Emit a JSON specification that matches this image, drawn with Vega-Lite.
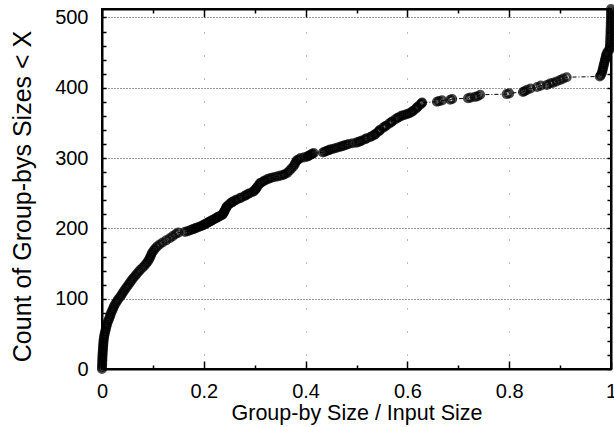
{
"$schema": "https://vega.github.io/schema/vega-lite/v6.json",
"width": 509, "height": 360,
"autosize": {"type": "none"},
"padding": {"left": 102, "top": 9, "right": 3, "bottom": 58},
"config": {
  "view": {"stroke": "black", "strokeWidth": 2},
  "font": "Liberation Sans",
  "axis": {"domainColor": "black", "domainWidth": 2, "tickColor": "black", "tickWidth": 1.5, "labelColor": "black", "titleColor": "black", "labelFont": "Liberation Sans", "titleFont": "Liberation Sans", "labelFontSize": 20, "titleFontWeight": "normal"}
},
"data": {"values": [
{"x":0.0000,"y":0},{"x":0.0001,"y":3},{"x":0.0003,"y":6},{"x":0.0004,"y":9},{"x":0.0006,"y":12},{"x":0.0008,"y":15},{"x":0.0009,"y":18},{"x":0.0011,"y":21},{"x":0.0014,"y":24},{"x":0.0017,"y":27},{"x":0.0020,"y":30},{"x":0.0023,"y":33},{"x":0.0026,"y":36},{"x":0.0029,"y":39},{"x":0.0033,"y":42},{"x":0.0040,"y":45},{"x":0.0046,"y":48},{"x":0.0055,"y":51},{"x":0.0065,"y":54},{"x":0.0075,"y":57},{"x":0.0085,"y":60},{"x":0.0095,"y":63},{"x":0.0108,"y":66},{"x":0.0125,"y":69},{"x":0.0140,"y":72},{"x":0.0158,"y":75},{"x":0.0170,"y":78},{"x":0.0185,"y":81},{"x":0.0205,"y":84},{"x":0.0222,"y":87},{"x":0.0240,"y":90},{"x":0.0265,"y":93},{"x":0.0290,"y":96},{"x":0.0315,"y":99},{"x":0.0350,"y":102},{"x":0.0380,"y":105},{"x":0.0405,"y":108},{"x":0.0430,"y":111},{"x":0.0460,"y":114},{"x":0.0490,"y":117},{"x":0.0520,"y":120},{"x":0.0550,"y":123},{"x":0.0580,"y":126},{"x":0.0610,"y":129},{"x":0.0645,"y":132},{"x":0.0680,"y":135},{"x":0.0715,"y":138},{"x":0.0750,"y":141},{"x":0.0795,"y":144},{"x":0.0835,"y":147},{"x":0.0870,"y":150},{"x":0.0900,"y":153},{"x":0.0925,"y":156},{"x":0.0945,"y":159},{"x":0.0965,"y":162},{"x":0.0980,"y":165},{"x":0.1010,"y":168},{"x":0.1040,"y":171},{"x":0.1080,"y":174},{"x":0.1130,"y":177},{"x":0.1190,"y":180},{"x":0.1260,"y":183},{"x":0.1330,"y":186},{"x":0.1390,"y":189},{"x":0.1450,"y":192},{"x":0.1500,"y":194},{"x":0.1630,"y":195},{"x":0.1720,"y":197},{"x":0.1790,"y":199},{"x":0.1860,"y":201},{"x":0.1940,"y":203},{"x":0.2000,"y":205},{"x":0.2050,"y":207},{"x":0.2100,"y":209},{"x":0.2150,"y":211},{"x":0.2200,"y":213},{"x":0.2250,"y":215},{"x":0.2300,"y":217},{"x":0.2360,"y":219},{"x":0.2390,"y":222},{"x":0.2410,"y":225},{"x":0.2430,"y":228},{"x":0.2450,"y":231},{"x":0.2490,"y":234},{"x":0.2550,"y":237},{"x":0.2620,"y":240},{"x":0.2710,"y":243},{"x":0.2800,"y":246},{"x":0.2870,"y":249},{"x":0.2960,"y":252},{"x":0.3010,"y":255},{"x":0.3040,"y":258},{"x":0.3070,"y":261},{"x":0.3100,"y":264},{"x":0.3170,"y":267},{"x":0.3250,"y":270},{"x":0.3330,"y":272},{"x":0.3450,"y":274},{"x":0.3560,"y":276},{"x":0.3640,"y":279},{"x":0.3680,"y":282},{"x":0.3720,"y":285},{"x":0.3760,"y":288},{"x":0.3785,"y":291},{"x":0.3805,"y":294},{"x":0.3830,"y":297},{"x":0.3900,"y":300},{"x":0.4030,"y":302},{"x":0.4080,"y":304},{"x":0.4130,"y":306},{"x":0.4160,"y":307},{"x":0.4340,"y":308},{"x":0.4410,"y":310},{"x":0.4480,"y":312},{"x":0.4580,"y":314},{"x":0.4680,"y":316},{"x":0.4760,"y":318},{"x":0.4850,"y":320},{"x":0.5000,"y":322},{"x":0.5110,"y":325},{"x":0.5200,"y":328},{"x":0.5300,"y":331},{"x":0.5370,"y":334},{"x":0.5420,"y":337},{"x":0.5460,"y":340},{"x":0.5520,"y":343},{"x":0.5580,"y":346},{"x":0.5640,"y":349},{"x":0.5700,"y":352},{"x":0.5760,"y":355},{"x":0.5830,"y":358},{"x":0.5920,"y":361},{"x":0.6050,"y":364},{"x":0.6110,"y":367},{"x":0.6160,"y":370},{"x":0.6200,"y":373},{"x":0.6250,"y":376},{"x":0.6290,"y":379},{"x":0.6580,"y":380},{"x":0.6620,"y":381},{"x":0.6680,"y":382},{"x":0.6840,"y":383},{"x":0.6880,"y":384},{"x":0.7190,"y":385},{"x":0.7240,"y":386},{"x":0.7330,"y":387},{"x":0.7380,"y":388},{"x":0.7430,"y":390},{"x":0.7950,"y":391},{"x":0.8000,"y":392},{"x":0.8270,"y":394},{"x":0.8300,"y":395},{"x":0.8350,"y":397},{"x":0.8420,"y":399},{"x":0.8550,"y":401},{"x":0.8620,"y":403},{"x":0.8740,"y":404},{"x":0.8800,"y":406},{"x":0.8860,"y":407},{"x":0.8930,"y":409},{"x":0.9000,"y":411},{"x":0.9060,"y":413},{"x":0.9130,"y":415},{"x":0.9780,"y":416},{"x":0.9800,"y":418},{"x":0.9820,"y":421},{"x":0.9830,"y":424},{"x":0.9840,"y":427},{"x":0.9850,"y":430},{"x":0.9860,"y":433},{"x":0.9870,"y":436},{"x":0.9880,"y":439},{"x":0.9890,"y":442},{"x":0.9900,"y":445},{"x":0.9910,"y":448},{"x":0.9930,"y":451},{"x":0.9970,"y":454},{"x":0.9975,"y":457},{"x":0.9980,"y":460},{"x":0.9980,"y":464},{"x":0.9985,"y":468},{"x":0.9985,"y":472},{"x":0.9990,"y":476},{"x":0.9990,"y":480},{"x":0.9992,"y":484},{"x":0.9994,"y":488},{"x":0.9995,"y":492},{"x":0.9997,"y":496},{"x":0.9998,"y":500},{"x":0.9999,"y":504},{"x":1.0,"y":508},{"x":1.0,"y":512},
{"x":0.168,"y":196},{"x":0.176,"y":198},{"x":0.183,"y":200},{"x":0.190,"y":202},{"x":0.197,"y":204},{"x":0.2025,"y":206},{"x":0.2075,"y":208},{"x":0.2125,"y":210},{"x":0.2175,"y":212},{"x":0.2225,"y":214},{"x":0.2275,"y":216},{"x":0.233,"y":218},{"x":0.237,"y":220},{"x":0.240,"y":224},{"x":0.2445,"y":230},{"x":0.253,"y":236},{"x":0.2575,"y":238},{"x":0.265,"y":241},{"x":0.274,"y":244},{"x":0.2825,"y":247},{"x":0.290,"y":250},{"x":0.2985,"y":253},{"x":0.302,"y":256},{"x":0.3125,"y":265},{"x":0.320,"y":268},{"x":0.329,"y":271},{"x":0.339,"y":273},{"x":0.3505,"y":275},{"x":0.359,"y":277},{"x":0.386,"y":298},{"x":0.397,"y":301},{"x":0.4055,"y":303},{"x":0.4105,"y":305},{"x":0.4375,"y":309},{"x":0.4445,"y":311},{"x":0.453,"y":313},{"x":0.463,"y":315},{"x":0.472,"y":317},{"x":0.4805,"y":319},{"x":0.4925,"y":321},{"x":0.504,"y":323},{"x":0.5075,"y":324},{"x":0.517,"y":327},{"x":0.527,"y":330},{"x":0.535,"y":333},{"x":0.545,"y":339},{"x":0.556,"y":345},{"x":0.568,"y":351},{"x":0.5805,"y":357},{"x":0.588,"y":360},{"x":0.597,"y":362},{"x":0.601,"y":363},{"x":0.609,"y":366},{"x":0.619,"y":372},{"x":0.628,"y":378}
]},
"layer": [
  {
    "mark": {"type": "line", "color": "black", "strokeWidth": 1, "strokeDash": [4, 2, 1, 2]},
    "encoding": {
      "x": {"field": "x", "type": "quantitative", "scale": {"domain": [0, 1], "nice": false, "zero": false},
        "axis": {"orient": "bottom", "title": "Group-by Size / Input Size", "titleFontSize": 21.5, "titlePadding": -3,
          "values": [0, 0.1, 0.2, 0.3, 0.4, 0.5, 0.6, 0.7, 0.8, 0.9, 1],
          "labelExpr": "round(datum.value*10) % 2 === 0 ? format(datum.value, '~g') : ''",
          "tickSize": {"condition": {"test": "round(datum.value*10) % 2 === 0", "value": -8}, "value": -4},
          "labelPadding": 20, "labelFlush": false, "labelOverlap": false,
          "grid": true, "gridColor": "#777", "gridDash": [1, 22], "gridWidth": 1,
          "gridOpacity": {"condition": {"test": "round(datum.value*10) % 2 === 0 && datum.value > 0 && datum.value < 1", "value": 1}, "value": 0}}},
      "y": {"field": "y", "type": "quantitative", "scale": {"domain": [0, 512], "nice": false, "zero": true},
        "axis": {"orient": "left", "title": "Count of Group-bys Sizes < X", "titleFontSize": 25, "titlePadding": 19, "titleY": 187,
          "values": [0, 20, 40, 60, 80, 100, 120, 140, 160, 180, 200, 220, 240, 260, 280, 300, 320, 340, 360, 380, 400, 420, 440, 460, 480, 500],
          "labelExpr": "datum.value % 100 === 0 ? datum.label : ''",
          "tickSize": -4, "labelPadding": 18, "labelOverlap": false, "labelFlush": false,
          "grid": true, "gridColor": "#333", "gridDash": [1, 2], "gridWidth": 1,
          "gridOpacity": {"condition": {"test": "datum.value % 100 === 0 && datum.value > 0", "value": 1}, "value": 0}}},
      "order": {"field": "y", "type": "quantitative"}
    }
  },
  {
    "mark": {"type": "point", "shape": "circle", "filled": false, "color": "black", "size": 50, "strokeWidth": 3},
    "encoding": {
      "x": {"field": "x", "type": "quantitative", "scale": {"domain": [0, 1], "nice": false, "zero": false},
        "axis": {"orient": "top", "title": null, "labels": false, "grid": false,
          "values": [0, 0.1, 0.2, 0.3, 0.4, 0.5, 0.6, 0.7, 0.8, 0.9, 1],
          "tickSize": {"condition": {"test": "round(datum.value*10) % 2 === 0", "value": -8}, "value": -4}}},
      "y": {"field": "y", "type": "quantitative", "scale": {"domain": [0, 512], "nice": false, "zero": true},
        "axis": {"orient": "right", "title": null, "labels": false, "grid": false,
          "values": [0, 20, 40, 60, 80, 100, 120, 140, 160, 180, 200, 220, 240, 260, 280, 300, 320, 340, 360, 380, 400, 420, 440, 460, 480, 500],
          "tickSize": -4}}
    }
  }
],
"resolve": {"axis": {"x": "independent", "y": "independent"}}
}
